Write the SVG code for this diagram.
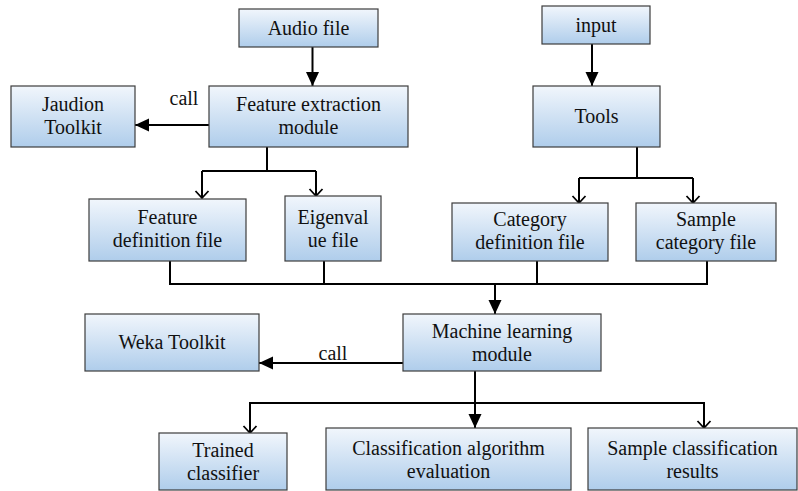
<svg xmlns="http://www.w3.org/2000/svg" width="798" height="491" viewBox="0 0 798 491" font-family="Liberation Serif, Times New Roman, serif">
<defs>
<linearGradient id="g" x1="0" y1="0" x2="0" y2="1">
<stop offset="0" stop-color="#f1f6fc"/>
<stop offset="1" stop-color="#afcdeb"/>
</linearGradient>
<marker id="af" markerUnits="userSpaceOnUse" markerWidth="15" markerHeight="14" refX="14" refY="6.5" orient="auto">
<path d="M0,0 L14,6.5 L0,13 z" fill="#000"/>
</marker>
<marker id="ao" markerUnits="userSpaceOnUse" markerWidth="10" markerHeight="16" refX="8" refY="7.5" orient="auto">
<path d="M1,1 L8,7.5 L1,14" fill="none" stroke="#000" stroke-width="1.8"/>
</marker>
</defs>
<style>
rect{fill:url(#g);stroke:#3c3c3c;stroke-width:1.2}
text{font-family:'Liberation Serif',serif;font-size:20px;fill:#111;text-anchor:middle}
.c{fill:none;stroke:#000;stroke-width:2}
</style>
<rect x="0" y="0" width="798" height="491" style="fill:#fff;stroke:none"/>
<g id="connectors">
<path class="c" d="M312.5,47 V86" marker-end="url(#af)"/>
<path class="c" d="M209,125 H135" marker-end="url(#af)"/>
<text x="184" y="105">call</text>
<path class="c" d="M267,147 V171"/>
<path class="c" d="M202,171 H316"/>
<path class="c" d="M202,171 V198" marker-end="url(#ao)"/>
<path class="c" d="M316,171 V196" marker-end="url(#ao)"/>
<path class="c" d="M592,44 V86" marker-end="url(#af)"/>
<path class="c" d="M637,147 V178"/>
<path class="c" d="M579,178 H693"/>
<path class="c" d="M579,178 V203" marker-end="url(#ao)"/>
<path class="c" d="M693,178 V203" marker-end="url(#ao)"/>
<path class="c" d="M170,261 V284 M324,261 V284 M537,261 V284 M707,261 V284 M169,284 H708"/>
<path class="c" d="M495,284 V314" marker-end="url(#af)"/>
<path class="c" d="M403,363 H259" marker-end="url(#af)"/>
<text x="333" y="360">call</text>
<path class="c" d="M475,371 V428" marker-end="url(#af)"/>
<path class="c" d="M250,403 H704"/>
<path class="c" d="M250,402 V433" marker-end="url(#ao)"/>
<path class="c" d="M704,402 V428" marker-end="url(#ao)"/>
</g>
<g id="audio"><rect x="239" y="9" width="139" height="38"/><text x="308.5" y="35">Audio file</text></g>
<g id="input"><rect x="542" y="6" width="108" height="38"/><text x="596" y="32">input</text></g>
<g id="jaudion"><rect x="11" y="86" width="124" height="61"/><text x="73" y="111">Jaudion</text><text x="73" y="134">Toolkit</text></g>
<g id="feature"><rect x="209" y="86" width="199" height="61"/><text x="308.5" y="111">Feature extraction</text><text x="308.5" y="134">module</text></g>
<g id="tools"><rect x="533" y="86" width="127" height="61"/><text x="596.5" y="123">Tools</text></g>
<g id="featdef"><rect x="89" y="199" width="157" height="62"/><text x="167.5" y="224">Feature</text><text x="167.5" y="247">definition file</text></g>
<g id="eigen"><rect x="285" y="196" width="96" height="65"/><text x="333" y="224">Eigenval</text><text x="333" y="247">ue file</text></g>
<g id="catdef"><rect x="452" y="203" width="156" height="58"/><text x="530" y="226">Category</text><text x="530" y="249">definition file</text></g>
<g id="samplecat"><rect x="636" y="203" width="140" height="58"/><text x="706" y="226">Sample</text><text x="706" y="249">category file</text></g>
<g id="weka"><rect x="85" y="314" width="174" height="57"/><text x="172" y="349">Weka Toolkit</text></g>
<g id="ml"><rect x="403" y="314" width="198" height="57"/><text x="502" y="338">Machine learning</text><text x="502" y="361">module</text></g>
<g id="trained"><rect x="159" y="433" width="128" height="57"/><text x="223" y="457">Trained</text><text x="223" y="480">classifier</text></g>
<g id="classeval"><rect x="326" y="428" width="245" height="62"/><text x="448.5" y="455">Classification algorithm</text><text x="448.5" y="478">evaluation</text></g>
<g id="sampleres"><rect x="588" y="428" width="209" height="62"/><text x="692.5" y="455">Sample classification</text><text x="692.5" y="478">results</text></g>
</svg>
